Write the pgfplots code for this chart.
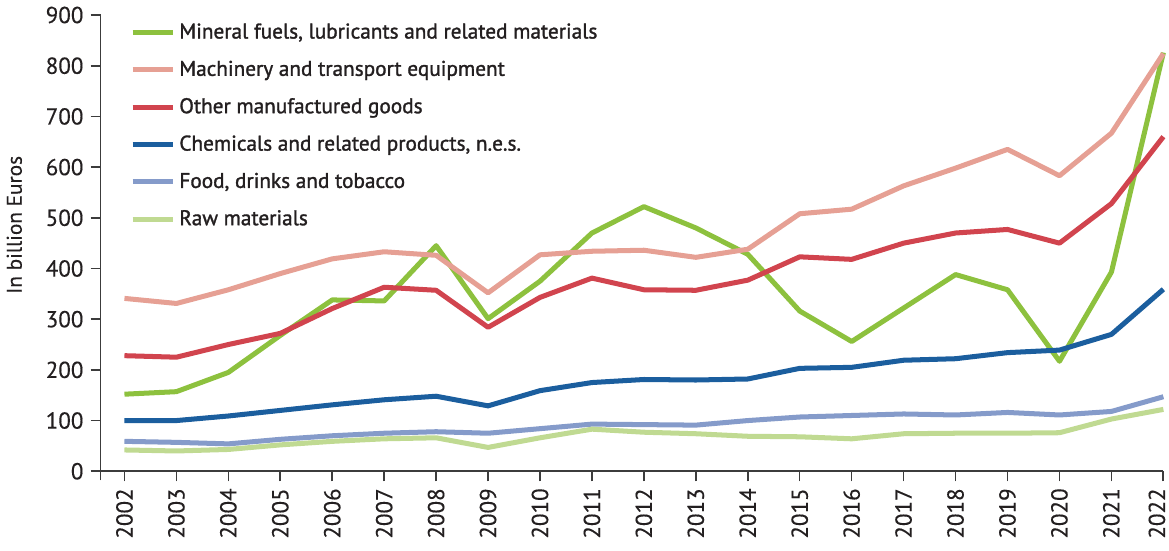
\documentclass[border=0pt]{standalone}
\usepackage{fontspec}
\setmainfont{PT Sans}
\newfontfamily\legfont[FakeBold=1.4]{PT Sans}
\newfontfamily\tickfont[FakeBold=0.3]{PT Sans}
\usepackage{pgfplots}
\pgfplotsset{compat=1.18}
\definecolor{cMin}{RGB}{141,193,62}
\definecolor{cMach}{RGB}{230,160,148}
\definecolor{cOther}{RGB}{209,68,78}
\definecolor{cChem}{RGB}{27,94,158}
\definecolor{cFood}{RGB}{133,155,202}
\definecolor{cRaw}{RGB}{192,218,146}
\definecolor{axgray}{RGB}{60,60,60}
\definecolor{txt}{RGB}{35,31,32}
\begin{document}
\begin{tikzpicture}
\begin{axis}[
  scale only axis, width=530pt, height=227.5pt,
  xmin=2001.54, xmax=2022, ymin=0, ymax=900, clip=false,
  axis lines=left,
  axis line style={color=axgray, line width=0.8pt, -},
  y axis line style={shorten <=-4.5pt},
  xtick={2002,...,2022}, ytick={0,100,...,900},
  tick align=outside, major tick length=5pt,
  tick style={color=axgray, line width=0.8pt},
  ticklabel style={font=\tickfont\fontsize{11.5}{13}\selectfont, text=txt},
  xticklabel style={rotate=90, anchor=east},
  xticklabel={\ifnum\ticknum=20\relax\raisebox{6.5pt}{2022}\else\pgfmathprintnumber[1000 sep={}]{\tick}\fi},
  /pgf/number format/assume math mode=true,
  ylabel={In billion Euros},
  ylabel style={font=\tickfont\fontsize{10.6}{13}\selectfont, text=txt,
    at={([xshift=-43pt]axis description cs:0,0.54)}, anchor=center},
  legend cell align=left,
  legend style={draw=none, fill=none, at={(axis description cs:0,1)}, anchor=north west,
    xshift=11.5pt, yshift=0pt, row sep=5.6pt,
    font=\legfont\fontsize{10.6}{12}\selectfont, text=txt},
  legend image code/.code={\draw[#1, line width=2.6pt] (0pt,0pt) -- (20pt,0pt);},
  every axis plot/.append style={line width=2.5pt, mark=none, line join=round},
]
\addplot[cMin] coordinates {(2002,152)(2003,157)(2004,195)(2005,268)(2006,338)(2007,336)(2008,445)(2009,301)(2010,375)(2011,470)(2012,522)(2013,480)(2014,428)(2015,316)(2016,256)(2017,322)(2018,388)(2019,358)(2020,217)(2021,393)(2022,826)};
\addlegendentry{Mineral fuels, lubricants and related materials}
\addplot[cMach] coordinates {(2002,341)(2003,331)(2004,358)(2005,390)(2006,419)(2007,433)(2008,426)(2009,352)(2010,427)(2011,434)(2012,436)(2013,422)(2014,438)(2015,508)(2016,517)(2017,563)(2018,598)(2019,635)(2020,583)(2021,667)(2022,824)};
\addlegendentry{Machinery and transport equipment}
\addplot[cOther] coordinates {(2002,228)(2003,225)(2004,250)(2005,272)(2006,321)(2007,363)(2008,357)(2009,284)(2010,343)(2011,381)(2012,358)(2013,357)(2014,377)(2015,423)(2016,418)(2017,450)(2018,470)(2019,477)(2020,450)(2021,528)(2022,660)};
\addlegendentry{Other manufactured goods}
\addplot[cChem] coordinates {(2002,100)(2003,100)(2004,109)(2005,120)(2006,131)(2007,141)(2008,148)(2009,129)(2010,159)(2011,175)(2012,181)(2013,180)(2014,182)(2015,203)(2016,205)(2017,219)(2018,222)(2019,234)(2020,239)(2021,270)(2022,359)};
\addlegendentry{Chemicals and related products, n.e.s.}
\addplot[cFood] coordinates {(2002,59)(2003,57)(2004,54)(2005,63)(2006,70)(2007,75)(2008,78)(2009,75)(2010,84)(2011,93)(2012,92)(2013,91)(2014,100)(2015,107)(2016,110)(2017,113)(2018,111)(2019,116)(2020,111)(2021,118)(2022,147)};
\addlegendentry{Food, drinks and tobacco}
\addplot[cRaw] coordinates {(2002,42)(2003,40)(2004,43)(2005,52)(2006,59)(2007,64)(2008,66)(2009,47)(2010,66)(2011,83)(2012,77)(2013,74)(2014,69)(2015,68)(2016,64)(2017,74)(2018,75)(2019,75)(2020,76)(2021,103)(2022,122)};
\addlegendentry{Raw materials}
\end{axis}
\coordinate (ne) at (current axis.outer north east -| current axis.east);
\pgfresetboundingbox
\path ([yshift=-2.5pt]current axis.outer south west) rectangle ([xshift=2.8pt]ne);
\end{tikzpicture}
\end{document}
